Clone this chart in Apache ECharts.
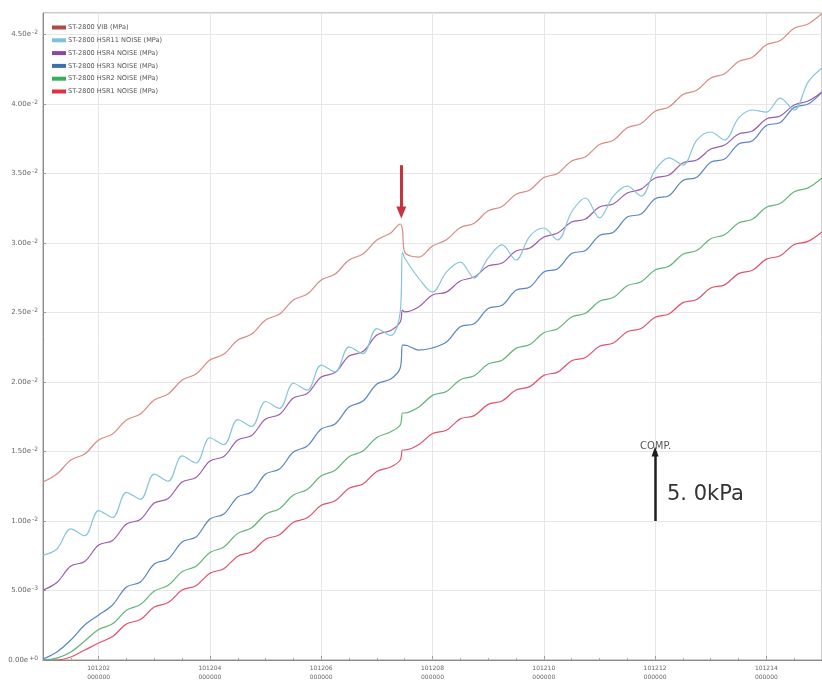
<!DOCTYPE html>
<html><head><meta charset="utf-8">
<script src="https://cdn.jsdelivr.net/npm/echarts@6/dist/echarts.min.js"></script>
<style>html,body{margin:0;padding:0;background:#fff}#chart{width:822px;height:682px}</style>
</head><body><div id="chart"></div>
<script>
// Sample times (minutes axis, hhmmss-like value) and pressures in kPa (1e-3 MPa)
const times = [101201,101201.25,101201.5,101201.75,101202,101202.25,101202.5,101202.75,101203,101203.25,101203.5,101203.75,
  101204,101204.25,101204.5,101204.75,101205,101205.25,101205.5,101205.75,101206,101206.25,101206.5,101206.75,101207,101207.25,
  101207.42,101207.46,101207.5,101207.75,101208,101208.25,101208.5,101208.75,101209,101209.25,101209.5,101209.75,101210,
  101210.25,101210.5,101210.75,101211,101211.25,101211.5,101211.75,101212,101212.25,101212.5,101212.75,101213,101213.25,
  101213.5,101213.75,101214,101214.25,101214.5,101214.75,101215];

const vib = [12.81,13.38,14.39,14.82,15.83,16.26,17.27,17.70,18.71,19.14,20.14,20.58,21.58,22.01,23.02,23.45,24.46,24.89,
  25.90,26.33,27.34,27.77,28.78,29.21,30.22,30.72,31.37,30.94,29.35,28.99,29.78,30.24,31.12,31.43,32.32,32.63,33.51,33.82,
  34.71,35.01,35.90,36.21,37.09,37.40,38.29,38.60,39.48,39.79,40.68,40.99,41.87,42.18,43.06,43.37,44.26,44.57,45.45,45.76,46.51];
const hsr11 = [7.55,7.99,9.44,8.94,10.75,10.25,12.06,11.56,13.37,12.87,14.68,14.18,15.99,15.49,17.29,16.80,18.60,18.11,
  19.91,19.42,21.22,20.73,22.53,22.04,23.84,23.35,25.04,29.35,28.92,27.48,26.47,27.91,28.63,27.48,28.92,29.86,28.78,30.50,
  31.08,30.22,32.23,33.24,31.80,33.38,34.10,33.38,35.25,36.12,35.61,37.41,37.99,37.41,38.99,39.57,39.42,40.43,39.57,41.58,42.59];
const hsr4 = [5.04,5.58,6.76,7.09,8.27,8.60,9.78,10.11,11.29,11.62,12.81,13.13,14.32,14.64,15.83,16.15,17.34,17.66,18.85,
  19.17,20.36,20.68,21.87,22.19,23.38,23.71,24.32,25.18,25.04,25.40,26.26,26.47,27.27,27.55,28.35,28.56,29.42,29.64,30.43,
  30.72,31.51,31.73,32.59,32.81,33.60,33.88,34.68,34.89,35.76,35.97,36.76,37.05,37.84,38.06,38.92,39.14,39.93,40.22,40.86];
const hsr3 = [0.07,0.58,1.44,2.52,3.24,3.96,5.25,5.61,6.91,7.27,8.49,8.85,10.14,10.50,11.73,12.09,13.38,13.74,14.96,15.40,
  16.62,16.98,18.20,18.63,19.86,20.22,21.01,22.66,22.66,22.30,22.45,22.88,23.98,24.20,25.29,25.52,26.60,26.83,27.92,28.15,
  29.24,29.47,30.55,30.78,31.87,32.09,33.19,33.41,34.50,34.73,35.82,36.04,37.13,37.36,38.45,38.68,39.76,40.00,40.86];
const hsr2 = [0,0.14,0.58,1.37,2.20,2.60,3.58,3.99,4.96,5.37,6.35,6.75,7.73,8.13,9.11,9.51,10.49,10.89,11.87,12.27,13.25,
  13.65,14.63,15.04,16.01,16.42,16.91,17.77,17.77,18.19,19.04,19.32,20.17,20.45,21.29,21.57,22.42,22.70,23.55,23.83,24.68,
  24.95,25.81,26.08,26.93,27.21,28.06,28.33,29.19,29.46,30.31,30.59,31.44,31.71,32.57,32.84,33.69,33.97,34.68];
const hsr1 = [0,0,0.22,0.72,1.22,1.69,2.59,2.91,3.81,4.13,5.03,5.35,6.24,6.57,7.47,7.79,8.69,9.01,9.91,10.23,11.13,11.45,
  12.35,12.67,13.57,13.89,14.39,15.11,15.11,15.49,16.29,16.53,17.35,17.58,18.39,18.63,19.43,19.67,20.48,20.71,21.53,21.76,
  22.57,22.81,23.62,23.85,24.66,24.90,25.71,25.94,26.76,26.99,27.80,28.04,28.84,29.08,29.89,30.12,30.79];

const seriesNames = ['ST-2800 VIB (MPa)','ST-2800 HSR11 NOISE (MPa)','ST-2800 HSR4 NOISE (MPa)',
  'ST-2800 HSR3 NOISE (MPa)','ST-2800 HSR2 NOISE (MPa)','ST-2800 HSR1 NOISE (MPa)'];
const seriesValues = [vib, hsr11, hsr4, hsr3, hsr2, hsr1];
const lineColors = ['#d98a84','#86c6d8','#9a5cae','#5a86c4','#62b47a','#e4506a'];
const legendColors = ['#b04a44','#7cc0dc','#8a48a6','#3a72b0','#3aac5c','#e03040'];

const majorTimes = [101202,101204,101206,101208,101210,101212,101214];

// pressure event marker and the 5.0 kPa scale bar
const eventTime = 101207.44;
const eventArrow = [35.6, 32.2];
const scaleTime = 101212;
const scaleBar = [10, 15];

const chart = echarts.init(document.getElementById('chart'));

function yLabel(v) {
  if (v === 0) return '{m|0.00e}{e|+0}';
  const s = (v / 1000).toExponential(2).split('e');
  return '{m|' + s[0] + 'e}{e|' + s[1] + '}';
}

const series = seriesValues.map((vals, k) => ({
  name: seriesNames[k],
  type: 'line',
  showSymbol: false,
  smooth: 0.35,
  color: legendColors[k],
  lineStyle: { color: lineColors[k], width: 1.2 },
  data: times.map((t, i) => [t, vals[i]]),
  z: 10 - k
}));

series[0].markLine = {
  silent: true, symbol: ['none', 'triangle'], symbolSize: [10, 12],
  label: { show: false },
  lineStyle: { color: '#c8323c', width: 3, type: 'solid' },
  data: [[{ coord: [eventTime, eventArrow[0]] }, { coord: [eventTime, eventArrow[1]] }]]
};
series[5].markLine = {
  silent: true, symbol: ['none', 'triangle'], symbolSize: [7, 10],
  label: { show: false },
  lineStyle: { color: '#1e1e1e', width: 2.5, type: 'solid' },
  data: [[{ coord: [scaleTime, scaleBar[0]] }, { coord: [scaleTime, scaleBar[1]] }]]
};

chart.setOption({
  animation: false,
  backgroundColor: '#fff',
  grid: { left: 43, right: 0, top: 13, bottom: 22, show: true, borderColor: '#9a9a9a', borderWidth: 1 },
  legend: {
    data: seriesNames, orient: 'vertical', left: 47, top: 19, itemGap: 5.8,
    itemWidth: 14, itemHeight: 4, icon: 'rect',
    textStyle: { fontSize: 6.6, color: '#555', fontFamily: 'DejaVu Sans', padding: [0, 0, 0, -3] }
  },
  xAxis: [{
    type: 'value', min: 101201, max: 101215, interval: 1,
    axisLine: { lineStyle: { color: '#8a8a8a' } },
    axisTick: { inside: true, length: 4, customValues: majorTimes, lineStyle: { color: '#999' } },
    splitLine: { show: true, lineStyle: { color: '#e6e6e6' } },
    axisLabel: {
      customValues: majorTimes, fontSize: 6, color: '#666', lineHeight: 9, margin: 4,
      fontFamily: 'DejaVu Sans',
      formatter: v => String(v) + '\n000000'
    }
  }, {
    type: 'value', min: 101201, max: 101215, interval: 0.5, position: 'bottom',
    axisLine: { show: false },
    axisTick: { inside: true, length: 2, lineStyle: { color: '#aaa' } },
    axisLabel: { show: false }, splitLine: { show: false }
  }],
  yAxis: {
    type: 'value', min: 0, max: 46.55, interval: 5,
    axisLine: { show: true, lineStyle: { color: '#8a8a8a' } },
    axisTick: { show: true, inside: true, length: 3, lineStyle: { color: '#999' } },
    splitLine: { show: true, lineStyle: { color: '#e6e6e6' } },
    axisLabel: {
      showMaxLabel: false, margin: 5, formatter: yLabel,
      rich: {
        m: { fontSize: 7, color: '#666', fontFamily: 'DejaVu Sans' },
        e: { fontSize: 6, color: '#666', fontFamily: 'DejaVu Sans', verticalAlign: 'top', padding: [0, 0, 4, 1] }
      }
    }
  },
  graphic: [
    { type: 'text', left: 640, top: 441, style: { text: 'COMP.', fontSize: 10, fill: '#555', fontFamily: 'DejaVu Sans' } },
    { type: 'text', left: 667, top: 484, style: { text: '5. 0kPa', fontSize: 21, fill: '#333', fontFamily: 'DejaVu Sans' } }
  ],
  series: series
});
</script>
</body></html>
